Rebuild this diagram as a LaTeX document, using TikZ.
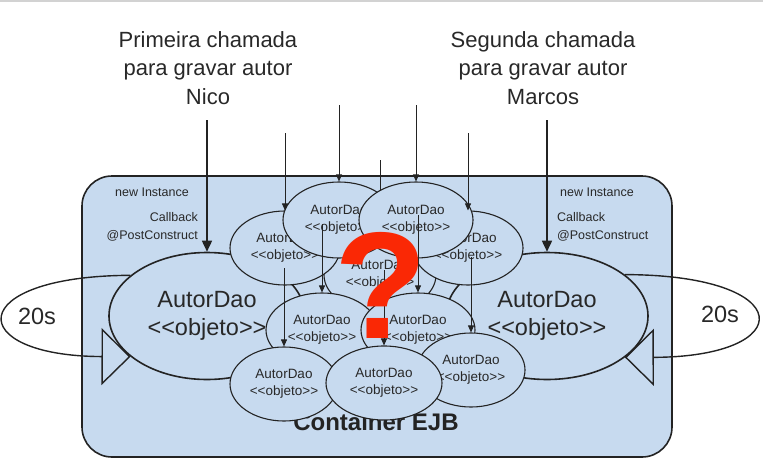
\documentclass[tikz,border=0pt]{standalone}
\usepackage{xcolor}
\usepackage{fontspec}
\newfontfamily\ejbfont{Liberation Sans}
\usetikzlibrary{shapes,arrows.meta,positioning}
\definecolor{ejbblue}{RGB}{199,218,239}
\definecolor{ejbline}{RGB}{35,35,35}
\definecolor{ejbtext}{RGB}{40,40,40}
\definecolor{qred}{RGB}{250,40,5}

\begin{document}
\begin{tikzpicture}[
    x=1pt, y=-1pt,
    container/.style={rectangle, draw=ejbline, line width=1.6pt, rounded corners=30pt, fill=ejbblue},
    obj/.style={ellipse, draw=ejbline, line width=1.1pt, fill=ejbblue, inner sep=0pt, minimum height=74pt, align=center, text=ejbtext, font=\ejbfont\fontsize{13.5}{17}\selectfont},
    bigobj/.style={obj, line width=1.6pt, minimum height=127pt, font=\ejbfont\fontsize{23.5}{28}\selectfont},
    call/.style={align=center, text=ejbtext, font=\ejbfont\fontsize{22}{28.5}\selectfont},
    note/.style={text=ejbtext, inner sep=0pt, font=\ejbfont\fontsize{12.5}{18}\selectfont},
    arrow/.style={-{Triangle[length=7pt,width=6pt]}, line width=0.8pt, draw=ejbline},
    bigarrow/.style={-{Triangle[length=11pt,width=10pt]}, line width=1.6pt, draw=ejbline},
    loop/.style={-{Triangle[open,length=29pt,width=57pt]}, line width=1.4pt, draw=ejbline}
]
\useasboundingbox (0,0) rectangle (763,466);
\draw[gray!35, line width=2pt] (0,1) -- (763,1);

% Container
\node[container, minimum width=590pt, minimum height=281pt] (ejb) at (377,316.5) {};
\node[text=ejbline, font=\ejbfont\fontsize{24}{28}\selectfont\bfseries] (ejblabel) at (376,422) {Container EJB};

% Calls
\node[call] (nico) at (208,68) {Primeira chamada\\para gravar autor\\Nico};
\node[call] (marcos) at (543,68) {Segunda chamada\\para gravar autor\\Marcos};
\coordinate (nicoin) at (207,120);
\coordinate (marcosin) at (547,120);

% Big objects
\node[bigobj, minimum width=196pt] (bigL) at (207,316) {AutorDao\\<\kern0pt<objeto>\kern0pt>};
\node[bigobj, minimum width=202pt] (bigR) at (547,316) {AutorDao\\<\kern0pt<objeto>\kern0pt>};

\draw[bigarrow] (nicoin) -- (bigL.north);
\draw[bigarrow] (marcosin) -- (bigR.north);

% Notes
\node[note] (newL) at (152,192) {new Instance};
\node[note, align=right, anchor=east] (cbL) at (198,227) {Callback\\@PostConstruct};
\node[note] (newR) at (597,192) {new Instance};
\node[note, align=left, anchor=west] (cbR) at (557,227) {Callback\\@PostConstruct};

% 20s loops
\node[text=ejbtext, font=\ejbfont\fontsize{23.5}{28}\selectfont] (loopL) at (37,316) {20s};
\node[text=ejbtext, font=\ejbfont\fontsize{23.5}{28}\selectfont] (loopR) at (720,314) {20s};
\draw[loop] (bigL.152) .. controls (-37,276) and (-37,356) .. (bigL.208);
\draw[loop] (bigR.28) .. controls (799,275) and (799,357) .. (bigR.332);

% Many objects
\coordinate (aMid) at (380,160);
\node[obj, minimum width=112pt] (objmid) at (380,275) {AutorDao\\<\kern0pt<objeto>\kern0pt>};
\draw[arrow] (aMid) -- (objmid.north);
\node[obj, minimum width=110pt] (upL) at (285,248) {AutorDao\\<\kern0pt<objeto>\kern0pt>};
\node[obj, minimum width=110pt] (upR) at (468,248) {AutorDao\\<\kern0pt<objeto>\kern0pt>};
\node[obj, minimum width=112pt, minimum height=76pt] (topL) at (339,220) {AutorDao\\<\kern0pt<objeto>\kern0pt>};
\node[obj, minimum width=114pt, minimum height=76pt] (topR) at (416,220) {AutorDao\\<\kern0pt<objeto>\kern0pt>};
\node[obj, minimum width=112pt] (midL) at (322,330) {AutorDao\\<\kern0pt<objeto>\kern0pt>};
\node[obj, minimum width=114pt] (midR) at (418,330) {AutorDao\\<\kern0pt<objeto>\kern0pt>};
\node[obj, minimum width=108pt] (botL) at (284,384) {AutorDao\\<\kern0pt<objeto>\kern0pt>};
\node[obj, minimum width=108pt] (botR) at (471,370) {AutorDao\\<\kern0pt<objeto>\kern0pt>};
\node[obj, minimum width=116pt] (botM) at (384,383) {AutorDao\\<\kern0pt<objeto>\kern0pt>};

% Arrows
\coordinate (aTopL) at (339,105);
\coordinate (aTopR) at (416,105);
\coordinate (aUpL) at (285,133);
\coordinate (aUpR) at (468,133);
\coordinate (aMidL) at (322,224);
\coordinate (aMidR) at (418,215);
\coordinate (aBotL) at (284,268);
\coordinate (aBotM) at (384,270);
\coordinate (aBotR) at (471,257);
\draw[arrow] (aTopL) -- (topL.north);
\draw[arrow] (aTopR) -- (topR.north);
\draw[arrow] (aUpL) -- (upL.north);
\draw[arrow] (aUpR) -- (upR.north);
\draw[arrow] (aMidL) -- (midL.north);
\draw[arrow] (aMidR) -- (midR.north);
\draw[arrow] (aBotL) -- (botL.north);
\draw[arrow] (aBotM) -- (botM.north);
\draw[arrow] (aBotR) -- (botR.north);

% Question
\node[text=qred, inner sep=0pt, font=\ejbfont\fontsize{152}{152}\selectfont\bfseries] (qmark) at (381,285) {?};

\end{tikzpicture}
\end{document}
